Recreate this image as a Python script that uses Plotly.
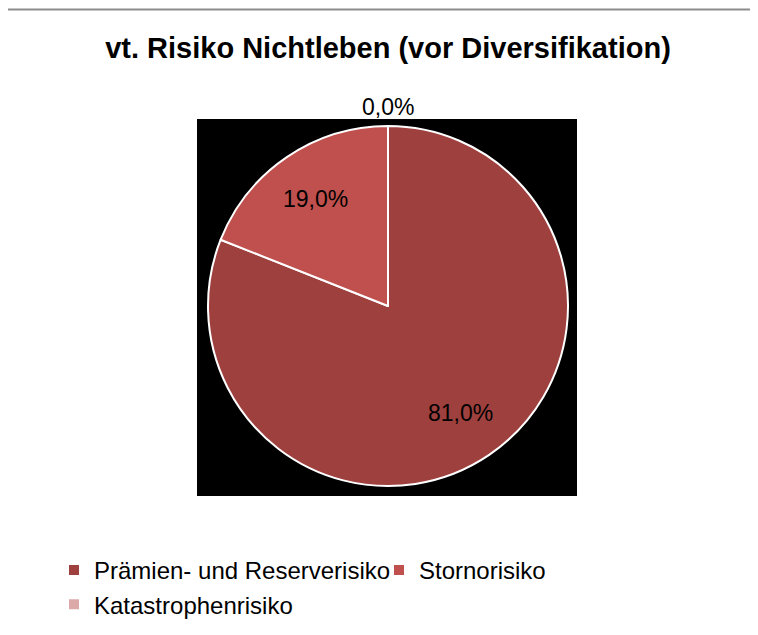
import math
import plotly.graph_objects as go

# Seite hat 8px body-margin -> Figur 750x627, alle Positionen in Seitenpixeln umrechnen
W, H = 750, 627
OFF = 8

labels = ["Prämien- und Reserverisiko", "Stornorisiko", "Katastrophenrisiko"]
values = [81.0, 19.0, 0.0]
colors = ["#9E413E", "#C0504D", "#DBA9A8"]
label_radius = [0.72, 0.72, 1.105]   # relativ zum Kreisradius


def px_x(x):
    return (x - OFF) / W


def px_y(y):
    return 1 - (y - OFF) / H


FONT = "Liberation Sans, Arial, sans-serif"

# Kreis: Mittelpunkt (388, 306), Radius 180 (Seitenpixel)
CX, CY, R = 388, 306, 180

fig = go.Figure()

fig.add_trace(go.Pie(
    labels=labels,
    values=values,
    sort=False,
    direction="clockwise",
    rotation=0,
    marker=dict(colors=colors, line=dict(color="white", width=2)),
    textinfo="none",
    hoverinfo="label+percent",
    domain=dict(x=[px_x(CX - R), px_x(CX + R)], y=[px_y(CY + R), px_y(CY - R)]),
    showlegend=True,
))

# Beschriftungen in der Mitte der Segmente (aus den Werten berechnet)
total = sum(values)
cum = 0.0
for v, rf in zip(values, label_radius):
    mid = (cum + v / 2) / total * 2 * math.pi
    cum += v
    dx = R * rf * math.sin(mid)
    dy = R * rf * math.cos(mid)
    txt = f"{v / total * 100:.1f}%".replace(".", ",")
    fig.add_annotation(x=px_x(CX + dx), y=px_y(CY - dy), xref="paper", yref="paper",
                       xanchor="center", yanchor="middle",
                       text=txt, showarrow=False,
                       font=dict(family=FONT, size=23, color="black"))

# schwarzer Plotbereich + Rahmen
fig.add_shape(type="rect", xref="paper", yref="paper",
              x0=px_x(197), x1=px_x(577), y0=px_y(496), y1=px_y(119),
              fillcolor="black", line=dict(width=0), layer="below")
fig.add_shape(type="line", xref="paper", yref="paper",
              x0=0, x1=1, y0=px_y(9.5), y1=px_y(9.5),
              line=dict(color="#8C8C8C", width=2), layer="above")

fig.update_layout(
    width=W, height=H,
    margin=dict(l=0, r=0, t=0, b=0),
    paper_bgcolor="white",
    font=dict(family=FONT, size=24, color="black"),
    title=dict(text="<b>vt. Risiko Nichtleben (vor Diversifikation)</b>",
               x=px_x(388), xanchor="center", y=px_y(48), yanchor="middle",
               font=dict(size=29, color="black")),
    legend=dict(orientation="h", x=px_x(54), xanchor="left",
                y=px_y(548), yanchor="top",
                font=dict(size=24), itemwidth=30, entrywidth=280,
                bgcolor="rgba(0,0,0,0)"),
)

fig.write_html("out.html")
